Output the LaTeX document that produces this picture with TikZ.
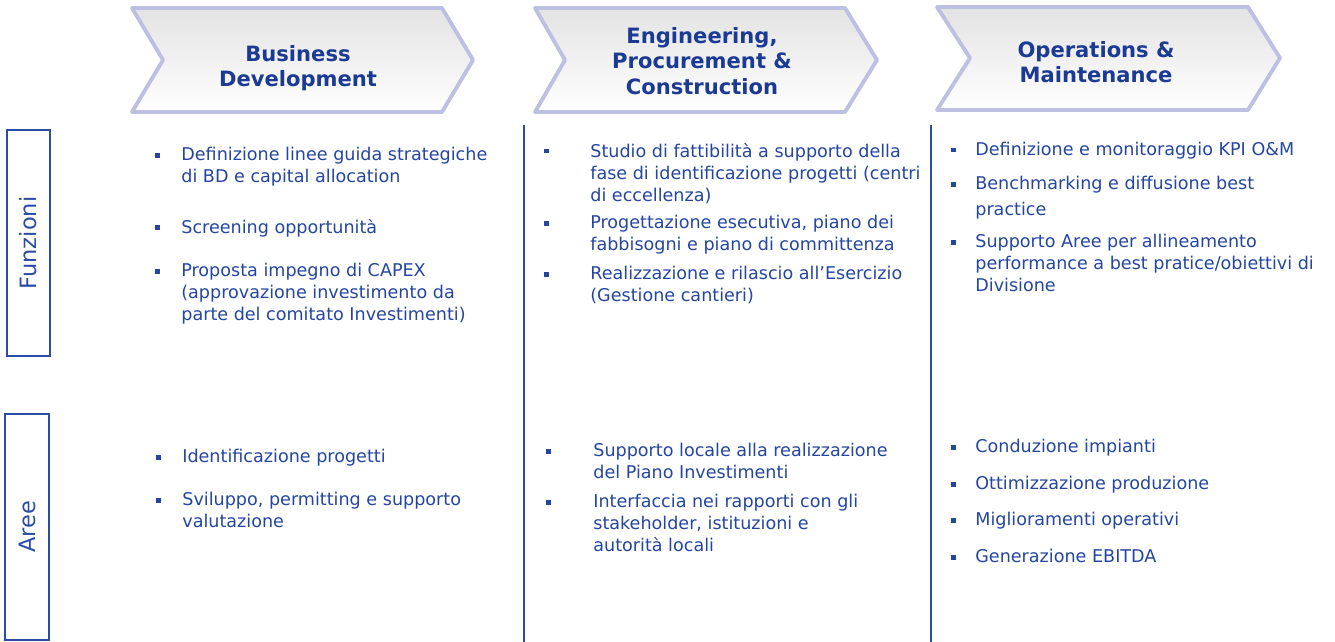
\documentclass[tikz,border=0pt]{standalone}
\usepackage{fontspec}
\setmainfont{DejaVu Sans}
\usepackage{tikz}
\usetikzlibrary{positioning}

\definecolor{txtblue}{HTML}{2446A0}
\definecolor{headblue}{HTML}{1B3A94}
\definecolor{edgeblue}{HTML}{2B4CA6}
\definecolor{chevline}{HTML}{BDBFE3}

\begin{document}
\begin{tikzpicture}[
    x=0.02cm, y=-0.02cm,
    % Styles
    phase/.style={% For the chevrons on top
        draw=chevline,
        line width=2.2pt,
        line join=round,
        top color=black!11,
        bottom color=white,
        },
    title/.style={% For the chevron titles
        align=center,
        text=headblue,
        font=\bfseries\fontsize{12}{14.5}\selectfont,
        },
    side/.style={% For the boxes on the left
        rectangle,
        draw=edgeblue,
        line width=1pt,
        rotate=90,
        text=edgeblue,
        font=\fontsize{12.8}{15}\selectfont,
        },
    item/.style={% For the bullet texts
        anchor=north west,
        align=left,
        inner sep=0pt,
        text=txtblue,
        font=\fontsize{10}{12.5}\selectfont,
        },
    bul/.style={% For the square bullets
        rectangle,
        fill=txtblue,
        inner sep=0pt,
        minimum size=0.1cm,
        },
    divider/.style={% Lines between the columns
        draw=edgeblue,
        line width=0.8pt,
        },
    ]

    \useasboundingbox (0,0) rectangle (1335,642);

    % Draw the chevrons
    \draw[phase] (132,8) -- (442,8) -- (473,60) -- (442,112) -- (132,112) -- (163,60) -- cycle;
    \draw[phase] (535,8) -- (845,8) -- (877,60) -- (845,112) -- (535,112) -- (565,60) -- cycle;
    \draw[phase] (937,7) -- (1248,7) -- (1280,58) -- (1248,110) -- (937,110) -- (970,58) -- cycle;

    \node[title] (bd) at (298,68) {Business\\Development};
    \node[title] (epc) at (702,61) {Engineering,\\Procurement \&\\Construction};
    \node[title] (om) at (1096,62) {Operations \&\\Maintenance};

    % Draw the side boxes
    \node[side, minimum width=4.52cm, minimum height=0.86cm] (funz) at (28.5,243) {Funzioni};
    \node[side, minimum width=4.52cm, minimum height=0.88cm] (aree) at (27,527) {Aree};

    % Draw the lines between the columns
    \coordinate (divA top) at (524,125);
    \coordinate (divA bot) at (524,642);
    \coordinate (divB top) at (931,125);
    \coordinate (divB bot) at (931,642);
    \draw[divider] (divA top) -- (divA bot);
    \draw[divider] (divB top) -- (divB bot);

    %Business Development
    %funzioni
    \node[bul] (bb1) at (157,155) {};
    \node[item] (b1) at (181,147) {Definizione linee guida strategiche\\di BD e capital allocation};
    \node[bul] (bb2) at (157,227) {};
    \node[item] (b2) at (181,219) {Screening opportunità};
    \node[bul] (bb3) at (157,271) {};
    \node[item] (b3) at (181,263) {Proposta impegno di CAPEX\\(approvazione investimento da\\parte del comitato Investimenti)};
    %aree
    \node[bul] (bb4) at (158,457) {};
    \node[item] (b4) at (182,449) {Identificazione progetti};
    \node[bul] (bb5) at (158,500) {};
    \node[item] (b5) at (182,492) {Sviluppo, permitting e supporto\\valutazione};

    %Engineering, Procurement & Construction
    %funzioni
    \node[bul] (ee1) at (546,151) {};
    \node[item] (e1) at (590,143) {Studio di fattibilità a supporto della\\fase di identificazione progetti (centri\\di eccellenza)};
    \node[bul] (ee2) at (546,223) {};
    \node[item] (e2) at (590,215) {Progettazione esecutiva, piano dei\\fabbisogni e piano di committenza};
    \node[bul] (ee3) at (546,274) {};
    \node[item] (e3) at (590,266) {Realizzazione e rilascio all’Esercizio\\(Gestione cantieri)};
    %aree
    \node[bul] (ee4) at (548,451) {};
    \node[item] (e4) at (593,443) {Supporto locale alla realizzazione\\del Piano Investimenti};
    \node[bul] (ee5) at (548,502) {};
    \node[item] (e5) at (593,494) {Interfaccia nei rapporti con gli\\stakeholder, istituzioni e\\autorità locali};

    %Operations & Maintenance
    %funzioni
    \node[bul] (oo1) at (953,150) {};
    \node[item] (o1) at (975,142) {Definizione e monitoraggio KPI O\&M};
    \node[bul] (oo2) at (953,184) {};
    \node[item] (o2) at (975,176) {Benchmarking e diffusione best\\[2.2pt]practice};
    \node[bul] (oo3) at (953,242) {};
    \node[item] (o3) at (975,234) {Supporto Aree per allineamento\\performance a best pratice/obiettivi di\\Divisione};
    %aree
    \node[bul] (oo4) at (953,447) {};
    \node[item] (o4) at (975,439) {Conduzione impianti};
    \node[bul] (oo5) at (953,484) {};
    \node[item] (o5) at (975,476) {Ottimizzazione produzione};
    \node[bul] (oo6) at (953,520) {};
    \node[item] (o6) at (975,512) {Miglioramenti operativi};
    \node[bul] (oo7) at (953,557) {};
    \node[item] (o7) at (975,549) {Generazione EBITDA};

\end{tikzpicture}
\end{document}
